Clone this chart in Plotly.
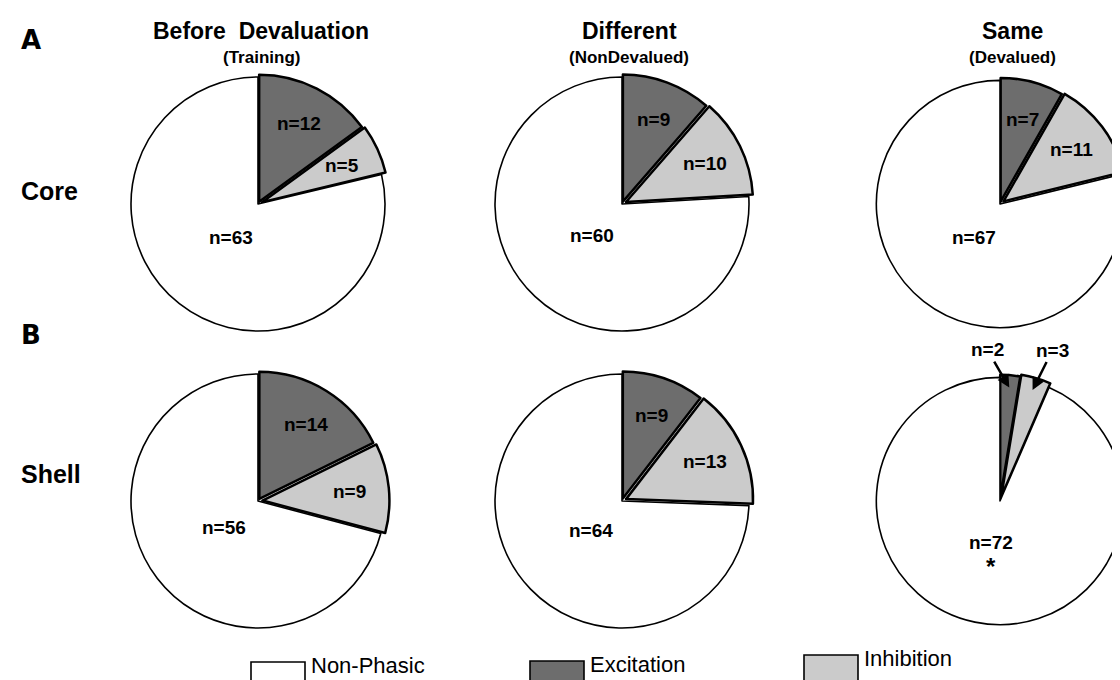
import math
import plotly.graph_objects as go

# ---------------- data ----------------
categories = ["Excitation", "Inhibition", "Non-Phasic"]
regions = ["Core", "Shell"]
panel_letters = ["A", "B"]
conditions = ["Before  Devaluation", "Different", "Same"]
subtitles = ["(Training)", "(NonDevalued)", "(Devalued)"]

core_excitation = [12, 9, 7]
core_inhibition = [5, 10, 11]
core_nonphasic = [63, 60, 67]

shell_excitation = [14, 9, 2]
shell_inhibition = [9, 13, 3]
shell_nonphasic = [56, 64, 72]

core_significant = [False, False, False]
shell_significant = [False, False, True]

legend_labels = ["Non-Phasic", "Excitation", "Inhibition"]

# ---------------- style / layout ----------------
W, H = 1120, 680
FONT = "Liberation Sans, Arial, Helvetica, sans-serif"
colors = ["#6d6d6d", "#cbcbcb", "#ffffff"]
legend_colors = {"Non-Phasic": "#ffffff", "Excitation": "#6d6d6d", "Inhibition": "#cbcbcb"}
LINE_W = [2.5, 2.5, 1.6]
PULLS = [0.02, 0.035, 0.0]
COL_CX = [250, 614, 992]
ROW_CY = [196, 493]
R = 127
TITLE_X = [253, 621, 1004]
SMALL = 0.05
OUT_OFFSETS = [(-22, -38), (20, -40)]

rows = [
    (core_excitation, core_inhibition, core_nonphasic, core_significant),
    (shell_excitation, shell_inhibition, shell_nonphasic, shell_significant),
]

fig = go.Figure()
annotations = []
shapes = []

for i, (exc, inh, non, sig) in enumerate(rows):
    for j in range(3):
        vals = [exc[j], inh[j], non[j]]
        cx, cy = COL_CX[j], ROW_CY[i]
        mp = max(PULLS)
        r = min(R, (W - cx) / (1 + mp))
        h = r * (1 + mp)
        fig.add_trace(go.Pie(
            values=vals, labels=categories, sort=False, direction="clockwise",
            rotation=0, pull=PULLS, textinfo="none", hoverinfo="label+value",
            marker=dict(colors=colors, line=dict(color="black", width=LINE_W)),
            domain=dict(x=[(cx - h) / W, (cx + h) / W],
                        y=[1 - (cy + h) / H, 1 - (cy - h) / H]),
            showlegend=False,
        ))
        total = sum(vals)
        start = 0.0
        small_k = 0
        for k, v in enumerate(vals):
            frac = v / total
            mid = math.radians((start + frac / 2) * 360)
            start += frac
            pr = PULLS[k] * r
            if frac < SMALL:
                d = 0.9 * r + pr
                tx = cx + d * math.sin(mid)
                ty = cy - d * math.cos(mid)
                ax, ay = OUT_OFFSETS[small_k]
                small_k += 1
                annotations.append(dict(
                    x=tx / W, y=1 - ty / H, xref="paper", yref="paper",
                    text=f"<b>n={v}</b>", showarrow=True, ax=ax, ay=ay,
                    arrowhead=2, arrowsize=1, arrowwidth=2.5, arrowcolor="black",
                    font=dict(family=FONT, size=19, color="black")))
            else:
                f = 0.69 if k < 2 else 0.34
                d = f * r + pr
                tx = cx + d * math.sin(mid)
                ty = cy - d * math.cos(mid)
                annotations.append(dict(
                    x=tx / W, y=1 - ty / H, xref="paper", yref="paper",
                    text=f"<b>n={v}</b>", showarrow=False,
                    xanchor="center", yanchor="middle",
                    font=dict(family=FONT, size=19, color="black")))
                if k == 2 and sig[j]:
                    annotations.append(dict(
                        x=tx / W, y=1 - (ty + 24) / H, xref="paper", yref="paper",
                        text="<b>*</b>", showarrow=False,
                        xanchor="center", yanchor="middle",
                        font=dict(family=FONT, size=24, color="black")))

# column titles
for j in range(3):
    annotations.append(dict(
        x=TITLE_X[j] / W, y=1 - 23 / H, xref="paper", yref="paper",
        text=f"<b>{conditions[j]}</b>", showarrow=False,
        xanchor="center", yanchor="middle",
        font=dict(family=FONT, size=23, color="black")))
    annotations.append(dict(
        x=TITLE_X[j] / W, y=1 - 50 / H, xref="paper", yref="paper",
        text=f"<b>{subtitles[j]}</b>", showarrow=False,
        xanchor="center", yanchor="middle",
        font=dict(family=FONT, size=17, color="black")))

# row labels and panel letters
ROW_LABEL_Y = [183, 466]
LETTER_Y = [32, 327]
for i in range(2):
    annotations.append(dict(
        x=11 / W, y=1 - ROW_LABEL_Y[i] / H, xref="paper", yref="paper",
        text=f"<b>{regions[i]}</b>", showarrow=False,
        xanchor="left", yanchor="middle",
        font=dict(family=FONT, size=25, color="black")))
    annotations.append(dict(
        x=11 / W, y=1 - LETTER_Y[i] / H, xref="paper", yref="paper",
        text=f"<b>{panel_letters[i]}</b>", showarrow=False,
        xanchor="left", yanchor="middle",
        font=dict(family="DejaVu Sans, sans-serif", size=26, color="black")))

# legend (boxes + labels)
LEG_X = [243, 522, 796]
LEG_TOP = [654, 653, 647]
BOX_W, BOX_H = 54, 27
for k, lab in enumerate(legend_labels):
    x0, y0 = LEG_X[k], LEG_TOP[k]
    shapes.append(dict(
        type="rect", xref="paper", yref="paper",
        x0=x0 / W, x1=(x0 + BOX_W) / W, y0=1 - y0 / H, y1=1 - (y0 + BOX_H) / H,
        line=dict(color="black", width=1.6), fillcolor=legend_colors[lab]))
    annotations.append(dict(
        x=(x0 + BOX_W + 4) / W, y=1 - (y0 + 3) / H, xref="paper", yref="paper",
        text=lab, showarrow=False, xanchor="left", yanchor="middle",
        font=dict(family=FONT, size=22, color="black")))

fig.update_layout(
    width=W, height=H, autosize=False,
    margin=dict(l=0, r=0, t=0, b=0),
    paper_bgcolor="white", plot_bgcolor="white",
    annotations=annotations, shapes=shapes,
    showlegend=False,
)

fig.write_html("out.html")
